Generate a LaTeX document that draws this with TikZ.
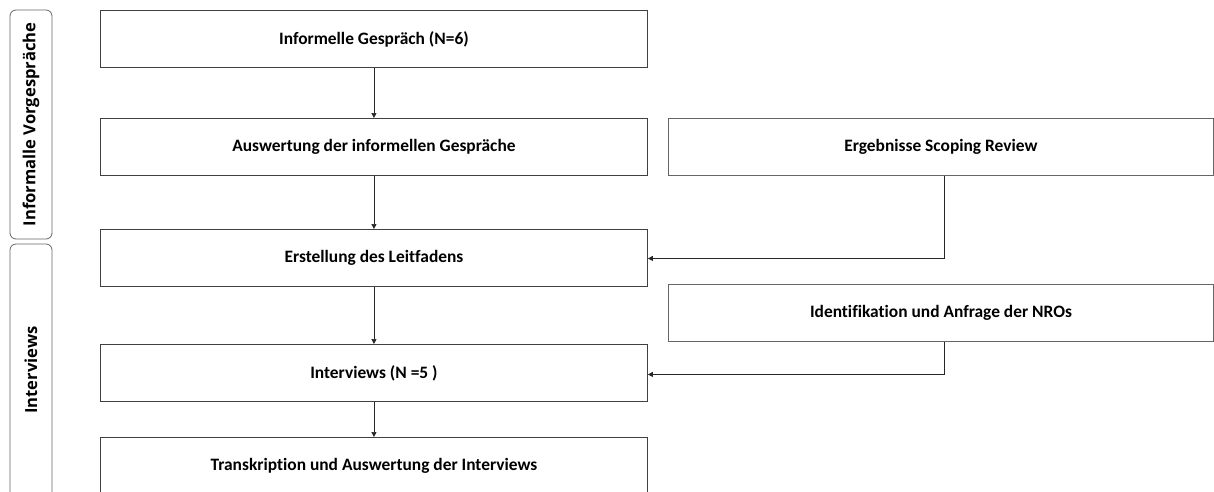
\documentclass[tikz,border=0pt]{standalone}
\usepackage{fontspec}
\setmainfont{Carlito}[Ligatures={NoCommon}]
\newfontfamily\sidefont{Open Sans}
\usetikzlibrary{arrows.meta}
\begin{document}
\begin{tikzpicture}[x=1pt,y=-1pt,
  flowbox/.style={draw=black!75,line width=0.9pt,minimum width=547pt,minimum height=57pt,inner sep=0pt,anchor=north west,font=\fontsize{17.4}{20}\selectfont\bfseries},
  rightbox/.style={draw=black!60,line width=0.9pt,minimum width=545pt,minimum height=57pt,inner sep=0pt,anchor=north west,font=\fontsize{17.4}{20}\selectfont\bfseries},
  sidebox/.style={draw=black!60,line width=0.8pt,rounded corners=6pt},
  sidetext/.style={rotate=90,font=\sidefont\fontsize{16.6}{20}\selectfont\bfseries},
  arr/.style={draw=black!85,line width=0.7pt,-{Triangle[width=5pt,length=5pt]}}]
\useasboundingbox (0,0) rectangle (1214,491);
\clip (0,0) rectangle (1214,491);
% side labels
\draw[sidebox] (10,10) rectangle (52,239);
\node[sidetext] (s1) at (31,124.5) {Informalle Vorgespräche};
\draw[sidebox] (10,244) rectangle (52,520);
\node[sidetext] (s2) at (31,370) {Interviews};
% main boxes
\node[flowbox] (b1) at (100,10) {Informelle Gespräch (N=6)};
\node[flowbox] (b2) at (100,118) {Auswertung der informellen Gespräche};
\node[flowbox] (b3) at (100,229) {Erstellung des Leitfadens};
\node[flowbox] (b4) at (100,344) {Interviews (N =5 )};
\node[flowbox] (b5) at (100,437) {Transkription und Auswertung der Interviews};
\node[rightbox] (r1) at (668,118) {Ergebnisse Scoping Review};
\node[rightbox] (r2) at (668,284) {Identifikation und Anfrage der NROs};
% connectors
\draw[arr] (b1) -- (b2);
\draw[arr] (b2) -- (b3);
\draw[arr] (b3) -- (b4);
\draw[arr] (b4) -- (b5);
\draw[arr] ([xshift=3pt]r1.south) |- ([yshift=-0.5pt]b3.east);
\draw[arr] ([xshift=3pt]r2.south) |- ([yshift=-1.5pt]b4.east);
\end{tikzpicture}
\end{document}
